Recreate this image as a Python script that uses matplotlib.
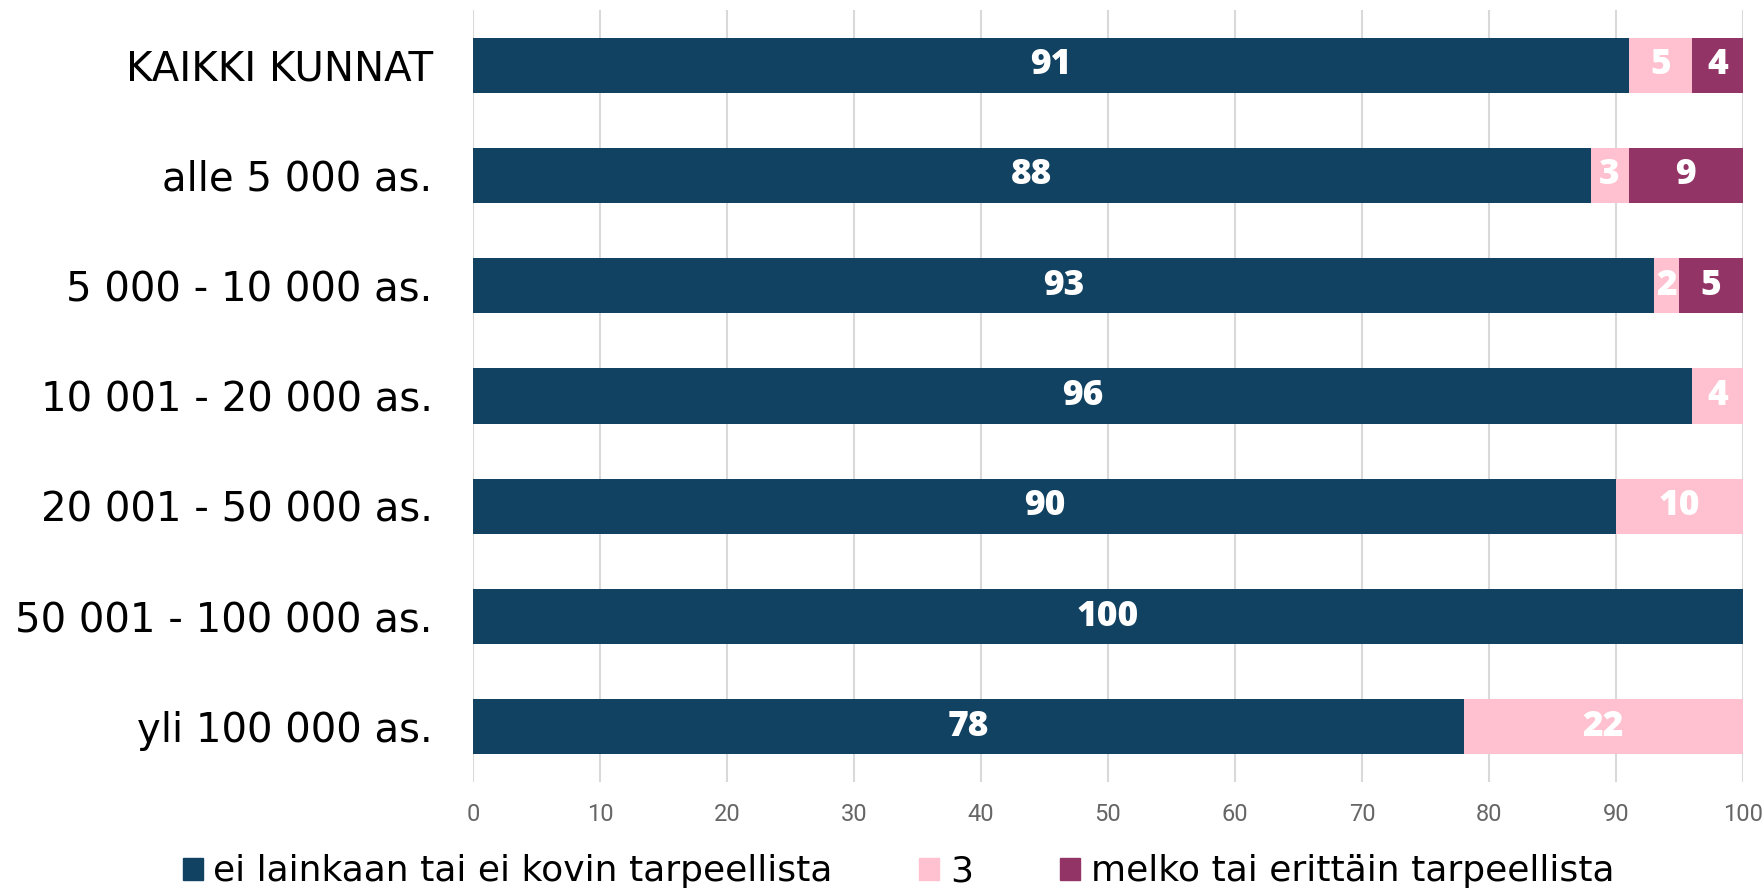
import matplotlib.pyplot as plt
import matplotlib.patches as mpatches
import numpy as np

# Tiedot
kategoriat = ["KAIKKI KUNNAT", "alle 5 000 as.", "5 000 - 10 000 as.",
              "10 001 - 20 000 as.", "20 001 - 50 000 as.",
              "50 001 - 100 000 as.", "yli 100 000 as."]
ei_tarpeellista = [91, 88, 93, 96, 90, 100, 78]
kolme = [5, 3, 2, 4, 10, 0, 22]
tarpeellista = [4, 9, 5, 0, 0, 0, 0]

sarjat = ["ei lainkaan tai ei kovin tarpeellista", "3", "melko tai erittäin tarpeellista"]
varit = ["#124261", "#FFC0CF", "#933466"]

fig = plt.figure(figsize=(17.65, 8.91), dpi=100)
ax = fig.add_axes([0.268, 0.1223, 0.7195, 0.8665])

y = np.arange(len(kategoriat))
vasen = np.zeros(len(kategoriat))
for arvot, vari in zip([ei_tarpeellista, kolme, tarpeellista], varit):
    arvot = np.array(arvot, dtype=float)
    ax.barh(y, arvot, left=vasen, height=0.5, color=vari, zorder=3)
    for yi, v, l in zip(y, arvot, vasen):
        if v > 0:
            ax.text(l + v / 2, yi, f"{v:.0f}", ha="center", va="center",
                    color="white", fontsize=25.5, fontweight=800,
                    family="Open Sans", zorder=4)
    vasen += arvot

ax.set_xlim(0, 100)
ax.set_ylim(6.5, -0.5)
ax.set_xticks(np.arange(0, 101, 10))
ax.set_yticks(y)
ax.set_yticklabels(kategoriat, fontsize=29, family="DejaVu Sans")
ax.tick_params(axis="y", length=0, pad=29)
ax.tick_params(axis="x", length=0, pad=15, labelsize=17, labelcolor="#666666")
for lab in ax.get_xticklabels():
    lab.set_family("Roboto")
ax.grid(axis="x", color="#D9D9D9", linewidth=1.5, zorder=0)
for s in ax.spines.values():
    s.set_visible(False)

# Selite
kahvat = [mpatches.Patch(color=c, label=s) for c, s in zip(varit, sarjat)]
fig.legend(handles=kahvat, loc="center", bbox_to_anchor=(0.509, 0.022),
           ncol=3, frameon=False, prop={"family": "DejaVu Sans", "size": 26},
           handlelength=0.55, handleheight=0.55, handletextpad=0.3, columnspacing=2.4)

plt.savefig("out.png", dpi=100)
